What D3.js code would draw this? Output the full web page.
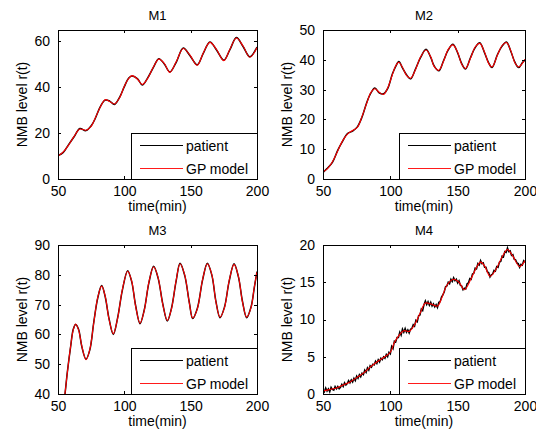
<!DOCTYPE html>
<meta charset="utf-8">
<style>
body {
  margin: 0;
  background: #fff;
}
text {
  font-family: Arial, "Liberation Sans", sans-serif;
  fill: #000;
}
.frame {
  fill: none;
  stroke: #000;
  stroke-width: 1;
  shape-rendering: crispEdges;
}
.tick line {
  stroke: #000;
  shape-rendering: crispEdges;
}
</style>
<body>
<script src="https://cdn.jsdelivr.net/npm/d3@7"></script>
<script>

var width = 536,
    height = 434;

var titles = ["M1", "M2", "M3", "M4"];
var xTicks = [50, 100, 150, 200];
var legendLabels = ["patient", "GP model"];

// M1
var t1 = [50, 54, 58, 62, 66.5, 71, 75, 78, 82, 85.5, 89, 92.5, 96.5, 100, 103.5, 106, 110, 113.5, 117.5, 122, 126, 130, 134.3, 139, 144.4, 149.5, 154.9, 159.5, 164.5, 169.5, 175, 179.5, 184.5, 189.5, 194.6, 200];
var gp1 = [10, 11.8, 14.8, 18.5, 21.8, 21.3, 23.0, 26.5, 31.5, 34.6, 33.8, 32.7, 35.5, 40.5, 44.0, 45.1, 43.5, 41.2, 43.8, 49.0, 52.3, 50.5, 46.5, 51.0, 56.9, 54.0, 49.6, 55.0, 59.6, 56.5, 51.6, 56.5, 61.5, 58.0, 53.1, 57.4];
var pat1 = [10.2, 11.6, 15.0, 18.3, 22.0, 21.1, 23.2, 26.3, 31.7, 34.4, 34.0, 32.5, 35.7, 40.3, 44.2, 44.9, 43.7, 41.0, 44.0, 48.8, 52.5, 50.3, 46.7, 50.8, 57.1, 53.8, 49.8, 54.8, 59.8, 56.3, 51.8, 56.3, 61.7, 57.8, 53.3, 57.6];
var yDomain1 = [0, 65];
var yTicks1 = [0, 20, 40, 60];

// M2
var t2 = [50, 53, 57, 61, 64.5, 68, 72, 75.5, 79, 82.5, 85.5, 88.5, 92, 95, 98, 101.5, 104, 106.3, 109, 112, 115, 118.5, 122.5, 126.5, 130, 132.5, 136, 139.5, 143, 146.5, 150, 153, 155.8, 159.5, 163, 166.4, 170, 173, 175.5, 179.5, 183, 186.2, 189.5, 192.5, 195.3, 198, 200];
var gp2 = [2.4, 3.3, 5.8, 9.5, 12.8, 15.0, 16.3, 17.3, 21.0, 25.5, 29.0, 30.3, 29.0, 28.4, 30.5, 35.0, 38.0, 39.2, 37.5, 34.8, 33.8, 36.5, 41.0, 43.3, 41.0, 37.8, 36.5, 39.5, 43.5, 45.0, 42.5, 38.5, 37.1, 40.5, 44.3, 45.5, 42.5, 38.8, 37.6, 41.5, 44.8, 45.8, 43.0, 39.0, 37.6, 38.8, 40.2];
var pat2 = [2.2, 3.5, 5.6, 9.7, 12.6, 15.2, 16.1, 17.5, 20.8, 25.7, 28.8, 30.5, 28.8, 28.6, 30.3, 35.2, 37.8, 39.4, 37.3, 35.0, 33.6, 36.7, 40.8, 43.5, 40.8, 38.0, 36.3, 39.7, 43.3, 45.2, 42.3, 38.7, 36.9, 40.7, 44.1, 45.7, 42.3, 39.0, 37.4, 41.7, 44.6, 46.0, 42.8, 39.2, 37.4, 39.0, 40.0];
var yDomain2 = [0, 50];
var yTicks2 = [0, 10, 20, 30, 40, 50];

// M3
var t3 = [50, 52, 54.8, 57, 59.5, 61.5, 63.3, 65.5, 68, 71.1, 74, 77, 80, 82.9, 85.5, 88.5, 91.7, 95, 98.5, 102.5, 105.5, 108.5, 111.8, 115, 118.5, 122.1, 125.5, 129, 132.4, 135.5, 139, 142, 145.5, 149, 151.5, 155, 159, 162.6, 166, 169, 172.1, 175.5, 179, 182.7, 186, 189, 192.2, 195.5, 198, 200];
var gp3 = [26, 31, 38.5, 47, 56, 61.5, 63.5, 61.5, 56, 51.5, 55, 64, 72.5, 76.2, 73, 65, 60.2, 65.5, 75, 81.2, 78, 69.5, 63.8, 68, 77.5, 82.7, 79, 70, 64.7, 68.5, 78, 83.7, 80, 70.5, 65.5, 68.5, 78.5, 83.7, 80, 71, 65.8, 69, 78, 83.5, 79.5, 71, 65.8, 69, 76, 80.9];
var pat3 = [26.2, 31.2, 38.3, 47.2, 55.8, 61.7, 63.3, 61.7, 55.8, 51.7, 54.8, 64.2, 72.3, 76.4, 72.8, 65.2, 60.0, 65.7, 74.8, 81.4, 77.8, 69.7, 63.6, 68.2, 77.3, 82.9, 78.8, 70.2, 64.5, 68.7, 77.8, 83.9, 79.8, 70.7, 65.3, 68.7, 78.3, 83.9, 79.8, 71.2, 65.6, 69.2, 77.8, 83.7, 79.3, 71.2, 65.6, 69.2, 75.8, 81.1];
var yDomain3 = [40, 90];
var yTicks3 = [40, 50, 60, 70, 80, 90];

// M4
var t4 = [50, 55, 60, 65, 70, 75, 80, 85, 90, 95, 100, 103, 107, 110, 114, 118, 122, 126, 130, 135, 138, 142, 147, 151, 155, 160, 164, 167, 170, 174, 178, 183, 187, 191, 196, 200];
var gp4 = [0.4, 0.6, 0.8, 1.2, 1.6, 2.2, 2.8, 3.6, 4.3, 4.9, 5.6, 6.9, 8.0, 8.5, 8.4, 9.3, 10.8, 12.2, 12.1, 11.8, 12.8, 14.6, 15.4, 15.0, 14.0, 15.5, 17.0, 17.7, 17.2, 15.8, 16.6, 18.4, 19.4, 18.5, 17.1, 17.9];
var tPat4 = d3.range(50, 201, 1);
var pat4 = [
  0.6, 0.3, 0.8, 0.4, 0.7, 0.3, 0.9, 0.6, 0.5, 1.0,
  0.7, 1.0, 0.7, 0.9, 1.3, 1.0, 1.5, 1.2, 1.4, 1.8,
  1.5, 1.9, 1.6, 2.1, 1.8, 2.4, 2.1, 2.6, 2.3, 2.8,
  2.6, 3.2, 2.9, 3.5, 3.2, 3.8, 3.6, 4.0, 3.9, 4.4,
  4.1, 4.6, 4.3, 4.8, 4.6, 5.0, 4.8, 5.3, 5.0, 5.6,
  5.4, 6.4, 6.1, 7.1, 7.0, 7.6, 7.6, 8.3, 7.9, 8.7,
  8.3, 8.8, 8.3, 8.6, 8.2, 8.7, 8.8, 9.3, 9.1, 9.9,
  9.7, 10.5, 10.6, 11.4, 11.2, 12.0, 12.5, 12.0, 12.4, 11.9,
  12.3, 11.8, 12.1, 11.7, 12.0, 11.6, 12.3, 12.4, 13.0, 13.3,
  13.7, 14.4, 14.5, 15.0, 14.8, 15.4, 15.1, 15.6, 15.2, 15.4,
  14.9, 15.2, 14.6, 14.5, 14.0, 14.2, 14.1, 14.8, 14.9, 15.5,
  15.4, 16.1, 16.2, 16.9, 16.8, 17.5, 17.3, 17.9, 17.5, 17.6,
  17.0, 17.0, 16.4, 16.3, 15.7, 16.0, 16.1, 16.6, 16.5, 17.1,
  17.0, 17.7, 17.8, 18.5, 18.4, 19.1, 19.0, 19.6, 19.1, 19.2,
  18.6, 18.7, 18.1, 18.0, 17.6, 17.5, 17.0, 17.4, 17.3, 17.9,
  17.7
];
var yDomain4 = [0, 20];
var yTicks4 = [0, 5, 10, 15, 20];

var panels = [
  {title: titles[0], left: 58, top: 30, w: 199, h: 149, tp: t1, pat: pat1, tg: t1, gp: gp1, yDomain: yDomain1, yTicks: yTicks1},
  {title: titles[1], left: 323, top: 30, w: 202, h: 149, tp: t2, pat: pat2, tg: t2, gp: gp2, yDomain: yDomain2, yTicks: yTicks2},
  {title: titles[2], left: 58, top: 245, w: 199, h: 149, tp: t3, pat: pat3, tg: t3, gp: gp3, yDomain: yDomain3, yTicks: yTicks3},
  {title: titles[3], left: 323, top: 245, w: 202, h: 149, tp: tPat4, pat: pat4, tg: t4, gp: gp4, yDomain: yDomain4, yTicks: yTicks4}
];

var svg = d3.select("body").append("svg")
    .attr("width", width)
    .attr("height", height);

panels.forEach(function(p, i) {
  var g = svg.append("g")
      .attr("transform", "translate(" + p.left + "," + p.top + ")");

  var x = d3.scaleLinear().domain([50, 200]).range([0, p.w]);
  var y = d3.scaleLinear().domain(p.yDomain).range([p.h, 0]);

  g.append("clipPath").attr("id", "clip" + i)
    .append("rect").attr("width", p.w).attr("height", p.h);

  var line = d3.line()
      .x(function(d) { return x(d[0]); })
      .y(function(d) { return y(d[1]); })
      .curve(d3.curveCatmullRom.alpha(0.5));

  var lineRaw = d3.line()
      .x(function(d) { return x(d[0]); })
      .y(function(d) { return y(d[1]); });

  var patData = p.tp.map(function(t, k) { return [t, p.pat[k]]; });
  var gpData = p.tg.map(function(t, k) { return [t, p.gp[k]]; });

  var plot = g.append("g").attr("clip-path", "url(#clip" + i + ")");
  plot.append("path")
      .attr("d", (i == 3 ? lineRaw : line)(patData))
      .attr("fill", "none")
      .attr("stroke", "#000")
      .attr("stroke-width", 1.5);
  plot.append("path")
      .attr("d", line(gpData))
      .attr("fill", "none")
      .attr("stroke", "#f00")
      .attr("stroke-width", 1.1);

  // ticks on all four sides, pointing in (matlab box on)
  g.append("g").attr("transform", "translate(0," + p.h + ")")
      .call(d3.axisBottom(x).tickValues(xTicks).tickSizeInner(-3).tickSizeOuter(0).tickPadding(7))
      .call(function(a) { a.select(".domain").remove(); a.selectAll("text").style("font-size", "14px"); });
  g.append("g")
      .call(d3.axisTop(x).tickValues(xTicks).tickSizeInner(-3).tickSizeOuter(0).tickFormat(""))
      .select(".domain").remove();
  g.append("g")
      .call(d3.axisLeft(y).tickValues(p.yTicks).tickSizeInner(-3).tickSizeOuter(0).tickPadding(8))
      .call(function(a) { a.select(".domain").remove(); a.selectAll("text").style("font-size", "14px"); });
  g.append("g").attr("transform", "translate(" + p.w + ",0)")
      .call(d3.axisRight(y).tickValues(p.yTicks).tickSizeInner(-3).tickSizeOuter(0).tickFormat(""))
      .select(".domain").remove();

  g.append("rect")
      .attr("class", "frame")
      .attr("x", 0.5).attr("y", 0.5)
      .attr("width", p.w).attr("height", p.h);

  g.append("text")
      .attr("x", p.w / 2).attr("y", -10)
      .attr("text-anchor", "middle")
      .style("font-size", "13px")
      .text(p.title);

  g.append("text")
      .attr("x", p.w / 2).attr("y", p.h + 32)
      .attr("text-anchor", "middle")
      .style("font-size", "14px")
      .text("time(min)");

  g.append("text")
      .attr("transform", "translate(-31," + (p.h / 2) + ") rotate(-90)")
      .attr("text-anchor", "middle")
      .style("font-size", "14px")
      .text("NMB level r(t)");

  // legend, lower right
  var lw = 126, lh = 46;
  var lg = g.append("g")
      .attr("transform", "translate(" + (p.w - lw) + "," + (p.h - lh) + ")");
  lg.append("rect")
      .attr("x", 0.5).attr("y", 0.5)
      .attr("width", lw).attr("height", lh)
      .attr("fill", "#fff")
      .attr("stroke", "#000")
      .style("shape-rendering", "crispEdges");
  var colors = ["#000", "#f00"];
  legendLabels.forEach(function(lab, k) {
    var ly = 12.5 + k * 23;
    lg.append("line")
        .attr("x1", 9).attr("x2", 52)
        .attr("y1", ly).attr("y2", ly)
        .attr("stroke", colors[k])
        .attr("stroke-width", k == 0 ? 1.2 : 0.9);
    lg.append("text")
        .attr("x", 55).attr("y", ly + 5)
        .style("font-size", "14px")
        .text(lab);
  });
});

</script>
